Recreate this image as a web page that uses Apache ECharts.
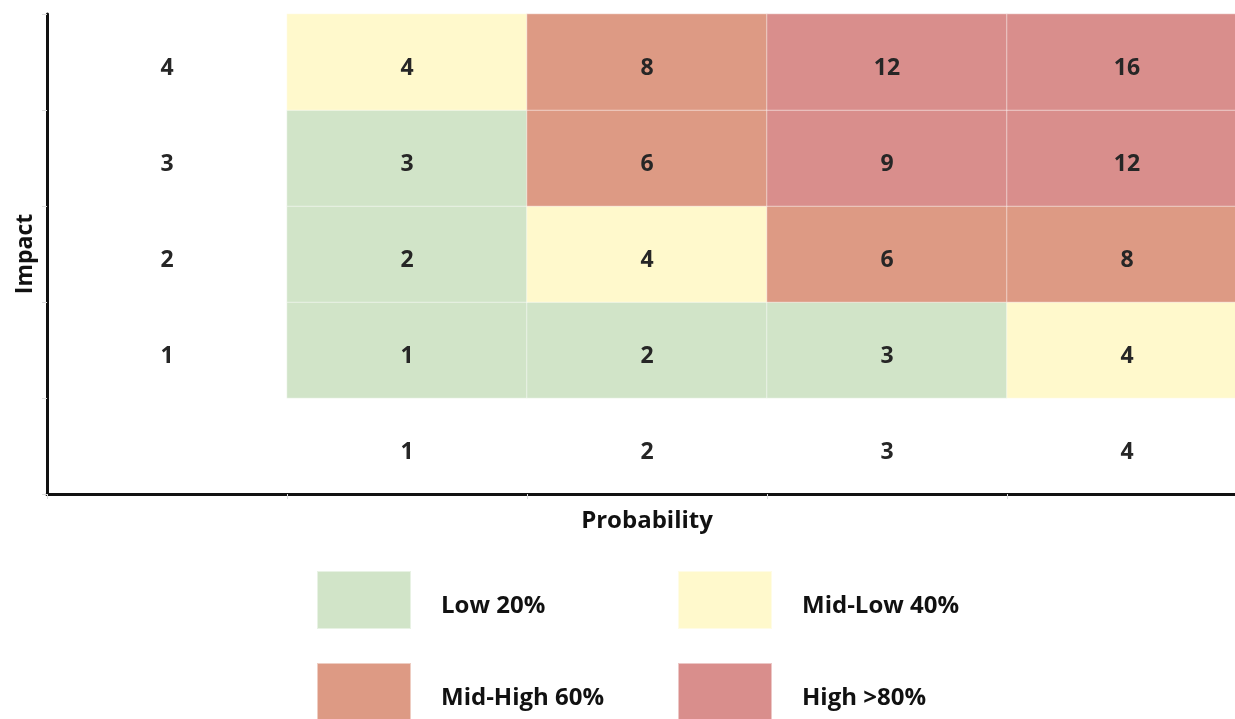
<!DOCTYPE html>
<html>
<head>
<meta charset="utf-8">
<script src="https://cdn.jsdelivr.net/npm/echarts@6/dist/echarts.min.js"></script>
<style>
  html, body { margin: 0; padding: 0; background: #fff; }
  #chart { width: 1235px; height: 719px; }
</style>
</head>
<body>
<div id="chart"></div>
<script>
// Risk matrix: probability (columns) x impact (rows)
const probabilityLabels = ['1', '2', '3', '4'];
const impactLabels = ['1', '2', '3', '4'];

// Risk score per cell, rows ordered by impact 1..4, columns by probability 1..4
const scores = [
  [1, 2, 3, 4],
  [2, 4, 6, 8],
  [3, 6, 9, 12],
  [4, 8, 12, 16]
];

// Risk level index per cell (0 Low, 1 Mid-Low, 2 Mid-High, 3 High)
const levels = [
  [0, 0, 0, 1],
  [0, 1, 2, 2],
  [0, 2, 3, 3],
  [1, 2, 3, 3]
];

const levelNames = ['Low 20%', 'Mid-Low 40%', 'Mid-High 60%', 'High >80%'];
const levelColors = ['#d1e4c8', '#fff9cc', '#dd9a84', '#d98e8c'];

const FONT = '"Open Sans", "Noto Sans", sans-serif';

// Axis categories: the first slot on each axis holds the printed scale labels
const xCats = [''].concat(probabilityLabels);
const yCats = [''].concat(impactLabels);

const cellLabel = {
  show: true,
  formatter: p => p.value[2],
  offset: [0, 6],
  fontFamily: FONT, fontWeight: 'bold', fontSize: 23, color: '#262626'
};

// One heatmap series per risk level
const levelSeries = levelNames.map((name, li) => {
  const data = [];
  scores.forEach((row, r) => {
    row.forEach((v, c) => {
      if (levels[r][c] === li) data.push([c + 1, r + 1, v]);
    });
  });
  return {
    name: name,
    type: 'heatmap',
    data: data,
    itemStyle: { color: levelColors[li], borderColor: 'rgba(255,255,255,0.5)', borderWidth: 1 },
    label: cellLabel,
    emphasis: { disabled: true }
  };
});

// Scale labels printed inside the grid (left column for impact, bottom row for probability)
const scaleData = [];
impactLabels.forEach((t, i) => scaleData.push({ value: [0, i + 1, t] }));
probabilityLabels.forEach((t, i) => scaleData.push({ value: [i + 1, 0, t] }));

const scaleSeries = {
  name: 'scale',
  type: 'heatmap',
  data: scaleData,
  itemStyle: { color: 'rgba(255,255,255,0)' },
  label: cellLabel,
  emphasis: { disabled: true }
};

const legendPos = [
  { left: 311, top: 565 },
  { left: 672, top: 565 },
  { left: 311, top: 657 },
  { left: 672, top: 657 }
];

const legends = levelNames.map((name, i) => ({
  left: legendPos[i].left,
  top: legendPos[i].top,
  orient: 'horizontal',
  selectedMode: false,
  icon: 'rect',
  itemWidth: 94,
  itemHeight: 58,
  data: [{ name: name, itemStyle: { color: levelColors[i] } }],
  formatter: n => '{t|' + n + '}',
  textStyle: {
    rich: {
      t: {
        fontFamily: FONT, fontWeight: 'bold', fontSize: 24, color: '#111',
        padding: [12, 0, 0, 25]
      }
    }
  }
}));

const option = {
  backgroundColor: '#ffffff',
  animation: false,
  grid: { left: 47, top: 14, right: -12, bottom: 225, outerBoundsMode: 'none' },
  xAxis: {
    type: 'category',
    data: xCats,
    name: 'Probability',
    nameLocation: 'middle',
    nameGap: 15,
    nameTextStyle: { fontFamily: FONT, fontWeight: 'bold', fontSize: 24, color: '#111', verticalAlign: 'top' },
    axisLine: { show: true, lineStyle: { color: '#111', width: 3 } },
    axisTick: { show: true, length: 5, lineStyle: { color: '#ddd' } },
    axisLabel: { show: false },
    splitLine: { show: false }
  },
  yAxis: {
    type: 'category',
    data: yCats,
    name: 'Impact',
    nameLocation: 'middle',
    nameGap: 10,
    nameRotate: 90,
    nameTextStyle: { fontFamily: FONT, fontWeight: 'bold', fontSize: 23, color: '#111' },
    axisLine: { show: true, lineStyle: { color: '#111', width: 3 } },
    axisTick: { show: true, length: 5, lineStyle: { color: '#ddd' } },
    axisLabel: { show: false },
    splitLine: { show: false }
  },
  legend: legends,
  series: levelSeries.concat([scaleSeries])
};

const chart = echarts.init(document.getElementById('chart'), null, { renderer: 'canvas' });
chart.setOption(option);
</script>
</body>
</html>
